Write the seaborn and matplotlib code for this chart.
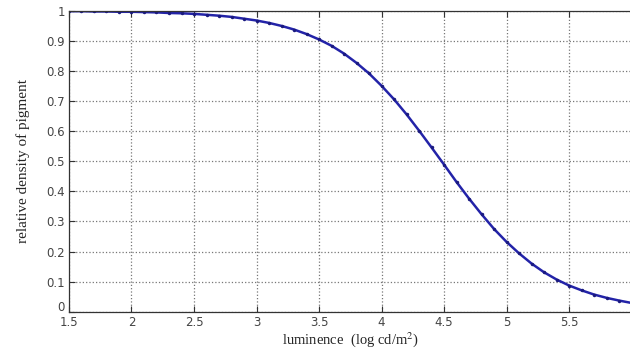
import numpy as np
import pandas as pd
import matplotlib
matplotlib.use("Agg")
import matplotlib.pyplot as plt
import matplotlib.transforms as mtransforms
import seaborn as sns

# luminance (log cd/m^2), sampled every 0.1
luminance = [1.5, 1.6, 1.7, 1.8, 1.9, 2.0, 2.1, 2.2, 2.3, 2.4,
             2.5, 2.6, 2.7, 2.8, 2.9, 3.0, 3.1, 3.2, 3.3, 3.4,
             3.5, 3.6, 3.7, 3.8, 3.9, 4.0, 4.1, 4.2, 4.3, 4.4,
             4.5, 4.6, 4.7, 4.8, 4.9, 5.0, 5.1, 5.2, 5.3, 5.4,
             5.5, 5.6, 5.7, 5.8, 5.9, 6.0]
# relative density of pigment
density = [0.999, 0.999, 0.998, 0.998, 0.997, 0.997, 0.996, 0.995, 0.993, 0.992,
           0.990, 0.987, 0.984, 0.980, 0.974, 0.968, 0.960, 0.950, 0.938, 0.923,
           0.905, 0.884, 0.858, 0.827, 0.792, 0.751, 0.706, 0.656, 0.602, 0.546,
           0.489, 0.431, 0.376, 0.324, 0.275, 0.232, 0.194, 0.160, 0.131, 0.107,
           0.087, 0.071, 0.057, 0.046, 0.037, 0.029]

x_ticks = [1.5, 2, 2.5, 3, 3.5, 4, 4.5, 5, 5.5, 6]
x_tick_labels = ['1.5', '2', '2.5', '3', '3.5', '4', '4.5', '5', '5.5', '']
y_ticks = [0, 0.1, 0.2, 0.3, 0.4, 0.5, 0.6, 0.7, 0.8, 0.9, 1]
y_tick_labels = ['0', '0.1', '0.2', '0.3', '0.4', '0.5', '0.6', '0.7', '0.8', '0.9', '1']

df = pd.DataFrame({'luminance': luminance, 'density': density})

sns.set_style('ticks')
plt.rcParams['font.family'] = ['DejaVu Sans']
plt.rcParams['mathtext.fontset'] = 'stix'

fig = plt.figure(figsize=(6.3, 3.51), dpi=100)
ax = fig.add_axes([0.1095, 0.112, 0.893, 0.857])

sns.lineplot(data=df, x='luminance', y='density', ax=ax, color='#2323a8',
             linewidth=1.8, marker='.', markersize=5, markeredgewidth=0,
             markerfacecolor='#1a1a80')

ax.set_xlim(1.5, 6)
ax.set_ylim(0, 1)
ax.set_xticks(x_ticks)
ax.set_xticklabels(x_tick_labels)
ax.set_yticks(y_ticks)
ax.set_yticklabels(y_tick_labels)

ax.grid(True, linestyle=':', color='#777777', linewidth=0.9)
ax.tick_params(direction='in', length=4, width=0.8, colors='#333333',
               labelcolor='#444444', labelsize=8.5, top=True, right=False)
ax.tick_params(axis='x', pad=3)
ax.tick_params(axis='y', pad=3)
for side in ['left', 'bottom', 'top']:
    ax.spines[side].set_color('#333333')
    ax.spines[side].set_linewidth(0.9)
ax.spines['right'].set_visible(False)

# lift the "0" label a little so it clears the "1.5" below it
zero_lbl = ax.get_yticklabels()[0]
zero_lbl.set_transform(zero_lbl.get_transform() +
                       mtransforms.ScaledTranslation(0, 4 / 72, fig.dpi_scale_trans))

ax.set_xlabel('luminence  (log cd/m$^2$)', family='Liberation Serif',
              fontsize=10.5, labelpad=1)
ax.set_ylabel('relative density of pigment', family='Liberation Serif',
              fontsize=11, labelpad=12)

fig.savefig('out.png', dpi=100)
